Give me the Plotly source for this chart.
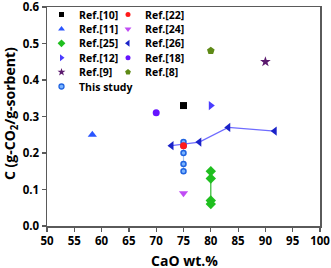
import plotly.graph_objects as go

# ---- data ----
ref10_x = [75];   ref10_y = [0.33]
ref11_x = [58.3]; ref11_y = [0.25]
ref25_x = [80, 80, 80, 80]; ref25_y = [0.15, 0.13, 0.07, 0.06]
ref12_x = [80];   ref12_y = [0.33]
ref9_x = [90];    ref9_y = [0.45]
study_x = [75, 75, 75, 75, 75]; study_y = [0.23, 0.22, 0.20, 0.17, 0.15]
ref22_x = [75];   ref22_y = [0.22]
ref24_x = [75];   ref24_y = [0.09]
ref26_x = [72.8, 77.9, 83.2, 91.7]; ref26_y = [0.22, 0.23, 0.27, 0.26]
ref18_x = [70];   ref18_y = [0.31]
ref8_x = [80];    ref8_y = [0.48]

x_ticks = [50, 55, 60, 65, 70, 75, 80, 85, 90, 95, 100]
y_ticks = [0.0, 0.1, 0.2, 0.3, 0.4, 0.5, 0.6]

FONT = "Open Sans"
W, H = 331, 268
ML, MR, MT, MB = 47, 11, 7, 42

series = [
    # name, x, y, symbol, color, size, connecting line colour or None
    ("Ref.[10]", ref10_x, ref10_y, "square", "#000000", 7, None),
    ("Ref.[11]", ref11_x, ref11_y, "triangle-up", "#2a55ff", 8, None),
    ("Ref.[25]", ref25_x, ref25_y, "diamond", "#1fbf1f", 8, "#2fb82f"),
    ("Ref.[12]", ref12_x, ref12_y, "triangle-right", "#4a3cff", 8, None),
    ("Ref.[9]", ref9_x, ref9_y, "star", "#5b1a6e", 8, None),
    ("This study", study_x, study_y, "circle", "#7ab4ff", 5, "#a8c4ee"),
    ("Ref.[22]", ref22_x, ref22_y, "circle", "#ff1a1a", 7, None),
    ("Ref.[24]", ref24_x, ref24_y, "triangle-down", "#c04cf4", 8, None),
    ("Ref.[26]", ref26_x, ref26_y, "triangle-left", "#1a22c8", 8, "#6f6cff"),
    ("Ref.[18]", ref18_x, ref18_y, "circle", "#6614ff", 7, None),
    ("Ref.[8]", ref8_x, ref8_y, "pentagon", "#5e8a16", 8, None),
]

fig = go.Figure()

# connecting lines first
for name, xs, ys, sym, col, size, lcol in series:
    if lcol:
        fig.add_trace(go.Scatter(x=xs, y=ys, mode="lines",
                                 line=dict(color=lcol, width=1.2),
                                 showlegend=False, hoverinfo="skip"))

draw_order = ["Ref.[10]", "Ref.[11]", "Ref.[25]", "Ref.[12]", "Ref.[9]",
              "Ref.[24]", "Ref.[26]", "Ref.[18]", "Ref.[8]", "This study", "Ref.[22]"]
lookup = {s[0]: s for s in series}
for nm in draw_order:
    name, xs, ys, sym, col, size, lcol = lookup[nm]
    mline = dict(width=0)
    if name == "This study":
        mline = dict(color="#1f63e0", width=1.5)
    fig.add_trace(go.Scatter(x=xs, y=ys, mode="markers", name=name,
                             marker=dict(symbol=sym, color=col, size=size, line=mline),
                             showlegend=False))

# ---- manual two-column legend on an overlay pixel axis ----
col1 = ["Ref.[10]", "Ref.[11]", "Ref.[25]", "Ref.[12]", "Ref.[9]", "This study"]
col2 = ["Ref.[22]", "Ref.[24]", "Ref.[26]", "Ref.[18]", "Ref.[8]"]
row0, drow = 14.5, 14.4
annotations = []
for names, mx in ((col1, 61.5), (col2, 128)):
    for i, nm in enumerate(names):
        name, xs, ys, sym, col, size, lcol = lookup[nm]
        yy = row0 + i * drow
        mline = dict(width=0)
        msize = size - 2
        if name == "This study":
            mline = dict(color="#1f63e0", width=1.3)
            msize = size
        fig.add_trace(go.Scatter(x=[mx], y=[yy], mode="markers", xaxis="x2", yaxis="y2",
                                 marker=dict(symbol=sym, color=col, size=msize, line=mline),
                                 showlegend=False, hoverinfo="skip"))
        annotations.append(dict(x=mx + 15, y=yy, xref="x2", yref="y2", text=name,
                                showarrow=False, xanchor="left", yanchor="middle",
                                font=dict(family=FONT, size=10.5, color="#000", weight=700)))

# axis titles as paper-anchored annotations (positions in pixels -> paper fraction)
title_font = dict(family=FONT, size=14, color="#000", weight=700)
pw, ph = W - ML - MR, H - MT - MB
annotations.append(dict(text="CaO wt.%", xref="paper", yref="paper",
                        x=(184 - ML) / pw, y=(H - MB - 260) / ph,
                        xanchor="center", yanchor="middle", showarrow=False, font=title_font))
annotations.append(dict(text="C (g-CO<sub>2</sub>/g-sorbent)", xref="paper", yref="paper",
                        x=(10 - ML) / pw, y=(H - MB - 114) / ph, textangle=-90,
                        xanchor="center", yanchor="middle", showarrow=False, font=title_font))

axis_common = dict(showline=True, linecolor="#5a5a5a", linewidth=1.5, mirror=True,
                   ticks="outside", ticklen=4, tickwidth=1.2, tickcolor="#5a5a5a",
                   showgrid=False, zeroline=False, automargin=False,
                   ticklabeloverflow="allow",
                   tickfont=dict(family=FONT, size=11.5, color="#000", weight=700))

fig.update_layout(
    width=W, height=H,
    margin=dict(l=ML, r=MR, t=MT, b=MB, autoexpand=False),
    plot_bgcolor="white", paper_bgcolor="white",
    showlegend=False,
    hovermode=False,
    xaxis=dict(range=[50, 100], tickvals=x_ticks, ticktext=[str(v) for v in x_ticks],
               **axis_common),
    yaxis=dict(range=[0, 0.6], tickvals=y_ticks, ticktext=[f"{v:.1f}" for v in y_ticks],
               **axis_common),
    xaxis2=dict(overlaying="x", range=[47, 320], visible=False, fixedrange=True),
    yaxis2=dict(overlaying="y", range=[226, 7], visible=False, fixedrange=True),
    annotations=annotations,
)

fig.write_html("out.html",
               config={"displayModeBar": False, "staticPlot": True},
               post_script="document.body.style.margin='0';document.body.style.overflow='hidden';")
